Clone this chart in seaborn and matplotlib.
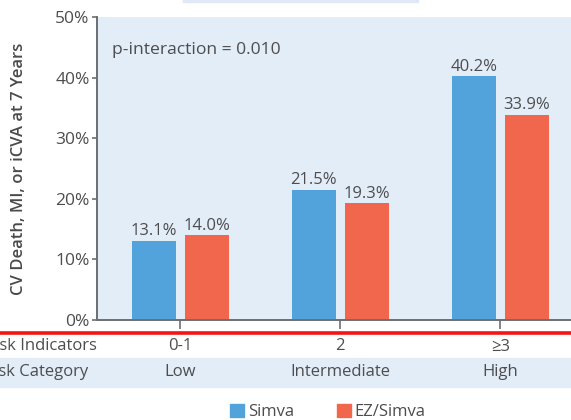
import matplotlib
matplotlib.use("Agg")
import matplotlib.pyplot as plt
import matplotlib.transforms as mtransforms
from matplotlib.lines import Line2D
from matplotlib.patches import Rectangle
import pandas as pd
import seaborn as sns

# Data
risk_indicators = ["0-1", "2", "\u22653"]
risk_category = ["Low", "Intermediate", "High"]
simva = [13.1, 21.5, 40.2]
ez_simva = [14.0, 19.3, 33.9]
treatments = ["Simva", "EZ/Simva"]
y_ticks = [0, 10, 20, 30, 40, 50]
y_label = "CV Death, MI, or iCVA at 7 Years"
p_text = "p-interaction = 0.010"

BLUE = "#52a2dc"
RED = "#f1674d"
BG = "#e3edf7"
TEXT = "#4d4d4f"
AXIS = "#6d6e71"

df = pd.DataFrame({
    "group": risk_indicators * 2,
    "treatment": [treatments[0]] * 3 + [treatments[1]] * 3,
    "rate": simva + ez_simva,
})

sns.set_theme(style="white")
plt.rcParams["font.family"] = ["Open Sans", "DejaVu Sans"]

fig = plt.figure(figsize=(5.71, 4.20), dpi=100)
ax = fig.add_axes([97 / 571, 1 - 320 / 420, 1 - 97 / 571, (320 - 17) / 420])
ax.set_facecolor(BG)

sns.barplot(data=df, x="group", y="rate", hue="treatment",
            order=risk_indicators, hue_order=treatments,
            palette=[BLUE, RED], saturation=1, width=0.6625, gap=0.17,
            errorbar=None, linewidth=0, ax=ax)

# value labels drawn from the same values as the bars
for cont, vals in zip(ax.containers, [simva, ez_simva]):
    ax.bar_label(cont, labels=[f"{v:.1f}%" for v in vals], padding=1,
                 fontsize=12, color=TEXT)

ax.set_xlim(-0.520, 2.442)
ax.set_ylim(0, 50)
ax.set_yticks(y_ticks)
ax.set_yticklabels([f"{t}%" for t in y_ticks], fontsize=12.5, color=TEXT)
ax.set_xticks(range(len(risk_indicators)))
ax.set_xticklabels([])
ax.set_xlabel("")
ax.set_ylabel(y_label, fontsize=12, color="#4a4a4c", fontweight="semibold")
ax.yaxis.set_label_coords((27 - 97) / 474, 0.5)

for s in ["top", "right"]:
    ax.spines[s].set_visible(False)
for s in ["left", "bottom"]:
    ax.spines[s].set_color(AXIS)
    ax.spines[s].set_linewidth(1.4)
ax.tick_params(axis="y", direction="out", length=3.8, width=1.2,
               color=AXIS, pad=1.5, left=True)
ax.tick_params(axis="x", direction="out", length=6.5, width=1.2,
               color=AXIS, bottom=True)

ax.legend_.remove()

ax.text(0.032, 0.891, p_text, transform=ax.transAxes, fontsize=12.6,
        color=TEXT, va="center", ha="left")

# red rule under the axis
fig.add_artist(Line2D([0, 1], [1 - 332.5 / 420] * 2, transform=fig.transFigure,
                      color="#f51414", linewidth=2.6))

# shaded band behind the risk category row
fig.add_artist(Rectangle((0, 1 - 386.5 / 420), 1, 29 / 420,
                         transform=fig.transFigure, color=BG, zorder=0))
# faint edge of the title box at the top
fig.add_artist(Rectangle((183 / 571, 1 - 1.5 / 420), (418 - 183) / 571, 1.5 / 420,
                         transform=fig.transFigure, color="#dfe8f4", zorder=0))

blend = mtransforms.blended_transform_factory(ax.transData, fig.transFigure)
y_row1 = 1 - 346.5 / 420
y_row2 = 1 - 371.5 / 420
for i, (ri, rc) in enumerate(zip(risk_indicators, risk_category)):
    fig.text(i, y_row1, ri, transform=blend, ha="center", va="center",
             fontsize=12, color=TEXT)
    fig.text(i, y_row2, rc, transform=blend, ha="center", va="center",
             fontsize=12, color=TEXT)
# row headers run off the left edge of the figure
fig.text(97 / 571, y_row1, "Risk Indicators", ha="right", va="center",
         fontsize=12, color=TEXT)
fig.text(88 / 571, y_row2, "Risk Category", ha="right", va="center",
         fontsize=12, color=TEXT)

handles = [Rectangle((0, 0), 1, 1, color=BLUE), Rectangle((0, 0), 1, 1, color=RED)]
fig.legend(handles, treatments, loc="center", bbox_to_anchor=(328 / 571, 1 - 412 / 420),
           ncol=2, frameon=False, fontsize=12, handlelength=0.85, handleheight=0.85,
           handletextpad=0.2, columnspacing=2.6, borderpad=0, labelcolor=TEXT)

fig.savefig("out.png", dpi=100)
